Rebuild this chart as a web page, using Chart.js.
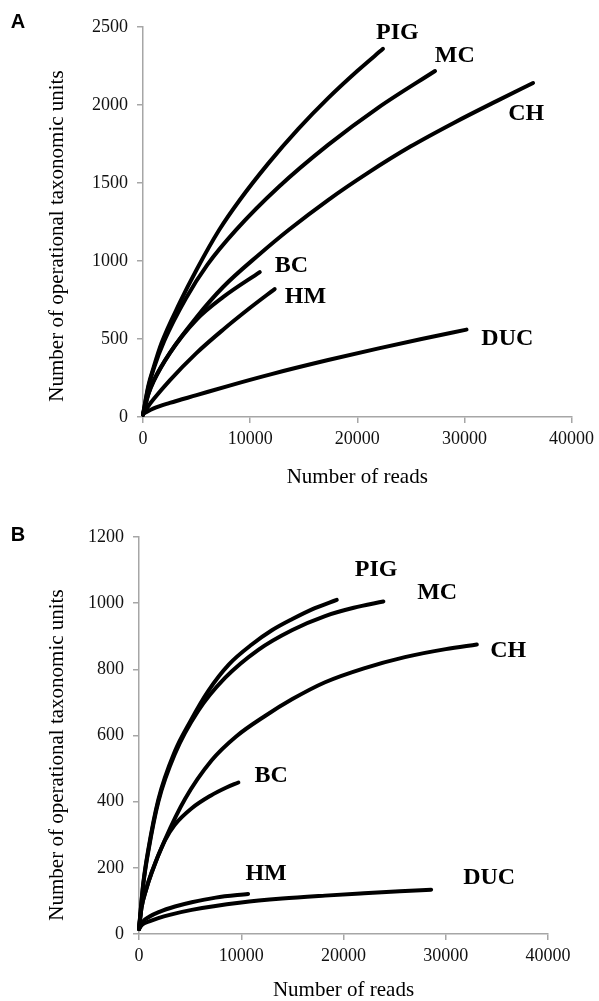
<!DOCTYPE html>
<html>
<head>
<meta charset="utf-8">
<script src="https://cdn.jsdelivr.net/npm/chart.js@4.4.0/dist/chart.umd.min.js"></script>
<style>
body{margin:0;background:#fff;}
#panelA{position:absolute;left:0;top:0;}
#panelB{position:absolute;left:0;top:490px;}
</style>
</head>
<body>
<canvas id="panelA" width="599" height="490"></canvas>
<canvas id="panelB" width="599" height="511"></canvas>
<script>
//ejes
var xTicks = [0, 10000, 20000, 30000, 40000];
var yTicksA = [0, 500, 1000, 1500, 2000, 2500];
var yTicksB = [0, 200, 400, 600, 800, 1000, 1200];

var groups = ["PIG", "MC", "CH", "BC", "HM", "DUC"];

//PANEL A - lecturas y OTUs
var readsA_PIG = [0, 500, 1000, 1730, 3420, 5000, 7120, 9000, 11740, 14500, 17280, 20000, 22400];
var otuA_PIG   = [15, 200, 320, 474, 731, 944, 1200, 1388, 1629, 1847, 2044, 2218, 2360];
var readsA_MC = [0, 500, 1000, 2000, 4000, 6000, 8690, 12660, 17280, 22000, 27260];
var otuA_MC   = [15, 190, 310, 490, 760, 975, 1199, 1474, 1744, 1985, 2218];
var readsA_CH = [0, 500, 1000, 2500, 5000, 7500, 10900, 13590, 17280, 21000, 25000, 29000, 33000, 36410];
var otuA_CH   = [15, 145, 230, 410, 640, 835, 1045, 1199, 1391, 1565, 1735, 1885, 2025, 2141];
var readsA_BC = [0, 500, 1000, 2500, 5000, 7500, 10900];
var otuA_BC   = [15, 150, 235, 410, 625, 770, 929];
var readsA_HM = [0, 500, 1000, 2500, 4960, 7500, 10000, 12290];
var otuA_HM   = [15, 70, 115, 235, 408, 561, 700, 820];
var readsA_DUC = [0, 1000, 2500, 5000, 8000, 12000, 17280, 22000, 26000, 30200];
var otuA_DUC   = [20, 55, 90, 140, 200, 275, 365, 440, 500, 560];

//PANEL B
var readsB_PIG = [0, 420, 910, 1890, 3520, 5000, 6780, 8800, 11030, 13000, 15000, 17200, 19340];
var otuB_PIG   = [15, 154, 255, 406, 553, 642, 735, 815, 875, 918, 952, 985, 1010];
var readsB_MC = [0, 420, 910, 1890, 3520, 5800, 8410, 11670, 15000, 18200, 21000, 23900];
var otuB_MC   = [15, 150, 250, 400, 545, 675, 774, 859, 919, 961, 986, 1005];
var readsB_CH = [0, 250, 700, 1240, 2540, 4500, 7110, 9500, 12330, 15000, 18200, 22000, 26000, 30000, 33040];
var otuB_CH   = [15, 80, 135, 186, 285, 408, 525, 597, 659, 710, 761, 803, 837, 861, 875];
var readsB_BC = [0, 250, 700, 1240, 2540, 3500, 5160, 7000, 8500, 9720];
var otuB_BC   = [15, 80, 135, 186, 283, 330, 380, 418, 442, 458];
var readsB_HM = [0, 300, 1000, 2000, 3520, 5160, 7500, 10670];
var otuB_HM   = [15, 35, 52, 67, 83, 96, 110, 121];
var readsB_DUC = [0, 300, 1000, 1890, 3000, 5160, 10000, 14000, 18200, 22000, 25500, 28570];
var otuB_DUC   = [15, 28, 38, 48, 58, 73, 95, 107, 116, 123, 129, 134];

//posicion de las etiquetas (en unidades de datos)
var labelPosA = {PIG: [23750, 2462], MC: [29110, 2314], CH: [35770, 1942], BC: [13860, 968], HM: [15160, 769], DUC: [34010, 500]};
var labelPosB = {PIG: [23190, 1100], MC: [29160, 1030], CH: [36110, 855], BC: [12920, 479], HM: [12430, 182], DUC: [34250, 170]};

var serif = "'Liberation Serif', 'Times New Roman', serif";
var axisGrey = "#a6a6a6";

function makeSet(xs, ys, name){
	var pts = [];
	for (var i = 0; i < xs.length; i++) {
		pts.push({x: xs[i], y: ys[i]});
	};
	return {
		label: name,
		data: pts,
		showLine: true,
		borderColor: "#000",
		borderWidth: 4,
		borderCapStyle: "round",
		pointRadius: 0,
		cubicInterpolationMode: "monotone",
		fill: false,
		clip: false
	};
}

//plugin que dibuja letra del panel, titulo vertical y etiquetas
function labelPlugin(letter, letterY, yTitleY, positions){
	return {
		id: "curveLabels" + letter,
		afterDraw: function(chart){
			var ctx = chart.ctx;
			var xs = chart.scales.x, ys = chart.scales.y;
			ctx.save();
			ctx.fillStyle = "#000";
			ctx.textAlign = "center";
			ctx.textBaseline = "middle";
			ctx.font = "bold 20px 'Liberation Sans', Arial, sans-serif";
			ctx.fillText(letter, 18, letterY);
			ctx.font = "bold 24px " + serif;
			for (var i = 0; i < groups.length; i++) {
				var p = positions[groups[i]];
				ctx.fillText(groups[i], xs.getPixelForValue(p[0]), ys.getPixelForValue(p[1]));
			};
			ctx.translate(57, yTitleY);
			ctx.rotate(-Math.PI / 2);
			ctx.font = "21px " + serif;
			ctx.fillText("Number of operational taxonomic units", 0, 0);
			ctx.restore();
		}
	};
}

function makeOptions(yTicks, pad, yWidth, xHeight, titleBottom){
	return {
		responsive: false,
		animation: false,
		layout: {padding: pad},
		plugins: {legend: {display: false}, tooltip: {enabled: false}},
		scales: {
			x: {
				type: "linear",
				min: 0,
				max: 40000,
				afterBuildTicks: function(s){ s.ticks = xTicks.map(function(v){ return {value: v}; }); },
				afterFit: function(s){ s.height = xHeight; },
				ticks: {font: {family: serif, size: 18}, color: "#111", padding: 5, maxRotation: 0,
					callback: function(v){ return String(v); }},
				grid: {drawOnChartArea: false, drawTicks: true, tickLength: 6, color: axisGrey, lineWidth: 1.5},
				border: {color: axisGrey, width: 1.5},
				title: {display: true, text: "Number of reads", color: "#000",
					font: {family: serif, size: 21, lineHeight: 1}, padding: {top: 0, bottom: titleBottom}}
			},
			y: {
				type: "linear",
				min: 0,
				max: yTicks[yTicks.length - 1],
				afterBuildTicks: function(s){ s.ticks = yTicks.map(function(v){ return {value: v}; }); },
				afterFit: function(s){ s.width = yWidth; },
				ticks: {font: {family: serif, size: 18}, color: "#111", padding: 9,
					callback: function(v){ return String(v); }},
				grid: {drawOnChartArea: false, drawTicks: true, tickLength: 6, color: axisGrey, lineWidth: 1.5},
				border: {color: axisGrey, width: 1.5}
			}
		}
	};
}

//GRAFICO A
var chartA = new Chart(document.getElementById("panelA"), {
	type: "scatter",
	data: {
		datasets: [
			makeSet(readsA_PIG, otuA_PIG, "PIG"),
			makeSet(readsA_MC, otuA_MC, "MC"),
			makeSet(readsA_CH, otuA_CH, "CH"),
			makeSet(readsA_BC, otuA_BC, "BC"),
			makeSet(readsA_HM, otuA_HM, "HM"),
			makeSet(readsA_DUC, otuA_DUC, "DUC")
		]
	},
	options: makeOptions(yTicksA, {left: 0, top: 27, right: 23, bottom: 0}, 143, 73, 2.5),
	plugins: [labelPlugin("A", 22, 236, labelPosA)]
});

//GRAFICO B
var chartB = new Chart(document.getElementById("panelB"), {
	type: "scatter",
	data: {
		datasets: [
			makeSet(readsB_PIG, otuB_PIG, "PIG"),
			makeSet(readsB_MC, otuB_MC, "MC"),
			makeSet(readsB_CH, otuB_CH, "CH"),
			makeSet(readsB_BC, otuB_BC, "BC"),
			makeSet(readsB_HM, otuB_HM, "HM"),
			makeSet(readsB_DUC, otuB_DUC, "DUC")
		]
	},
	options: makeOptions(yTicksB, {left: 0, top: 47, right: 51, bottom: 0}, 139, 67, 0),
	plugins: [labelPlugin("B", 45, 265, labelPosB)]
});
</script>
</body>
</html>
